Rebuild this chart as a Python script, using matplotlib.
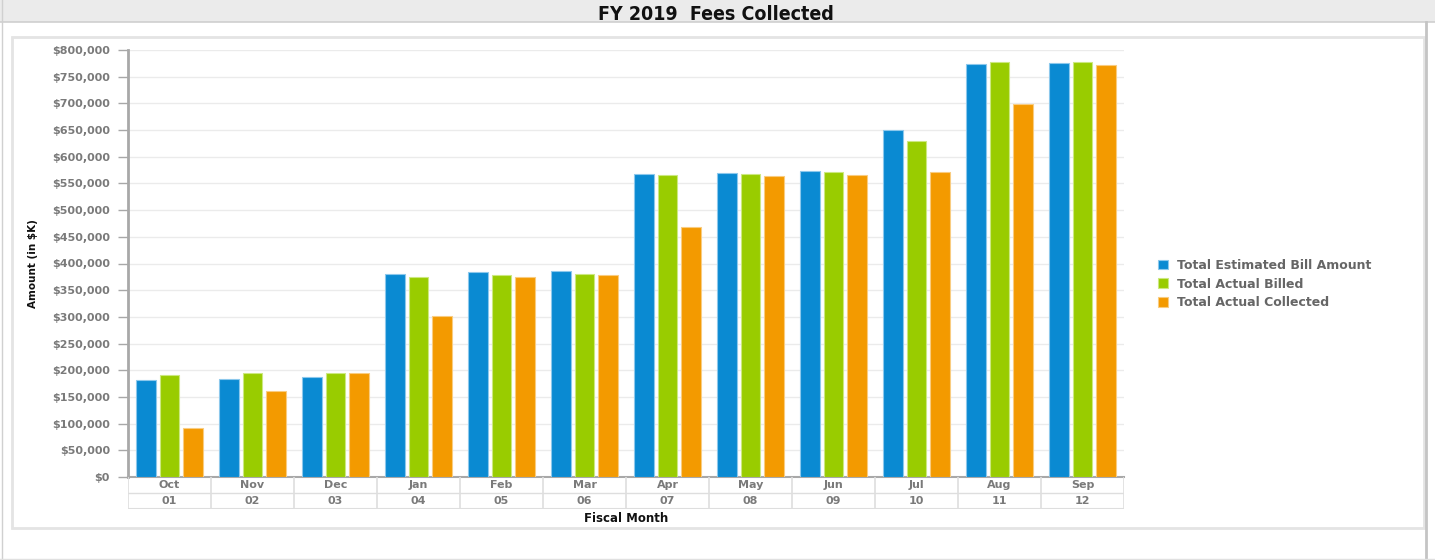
import numpy as np
import matplotlib
matplotlib.use("Agg")
import matplotlib.pyplot as plt
from matplotlib.patches import Rectangle
from matplotlib.lines import Line2D
from matplotlib.ticker import FuncFormatter

months = ["Oct", "Nov", "Dec", "Jan", "Feb", "Mar", "Apr", "May", "Jun", "Jul", "Aug", "Sep"]
month_nums = ["01", "02", "03", "04", "05", "06", "07", "08", "09", "10", "11", "12"]

estimated = [182000, 183000, 187000, 380000, 384000, 386000, 568000, 570000, 573000, 651000, 774000, 776000]
billed = [191000, 194000, 195000, 375000, 379000, 380000, 565000, 568000, 571000, 629000, 777000, 777000]
collected = [91000, 161000, 194000, 301000, 375000, 379000, 469000, 563000, 565000, 572000, 699000, 771000]

series_names = ["Total Estimated Bill Amount", "Total Actual Billed", "Total Actual Collected"]
colors = ["#0a8ad2", "#99cc00", "#f39a00"]
edges = ["#8cc8ec", "#cce880", "#f9cc80"]

W, H = 1435, 560


def box(x0, y0, x1, y1):
    # pixel box (top-left origin) -> figure fractions
    return [x0 / W, 1 - y1 / H, (x1 - x0) / W, (y1 - y0) / H]


fig = plt.figure(figsize=(W / 100, H / 100), dpi=100)
fig.patch.set_facecolor("white")

# title bar and frames
fig.patches.append(Rectangle((0, 1 - 22 / H), 1, 22 / H, transform=fig.transFigure,
                             facecolor="#ebebeb", edgecolor="none", zorder=0))
fig.add_artist(Line2D([0, 1], [1 - 22 / H] * 2, transform=fig.transFigure, color="#cfcfcf", lw=1.2))
fig.add_artist(Line2D([2 / W] * 2, [0, 1], transform=fig.transFigure, color="#d0d0d0", lw=1))
fig.add_artist(Line2D([1426 / W] * 2, [0, 1 - 22 / H], transform=fig.transFigure, color="#c4c4c4", lw=2))
fig.add_artist(Line2D([0, 1], [1 / H] * 2, transform=fig.transFigure, color="#e0e0e0", lw=1))
fig.patches.append(Rectangle((12 / W, 1 - 528 / H), (1424 - 12) / W, (528 - 37) / H,
                             transform=fig.transFigure, facecolor="none",
                             edgecolor="#e4e4e4", lw=2, zorder=0))
fig.text(716 / W, 1 - 14 / H, "FY 2019  Fees Collected", ha="center", va="center",
         fontsize=14, family="DejaVu Sans", fontstretch="condensed", fontweight="semibold",
         color="#111111")

ax = fig.add_axes(box(128, 50, 1124, 477))
x = np.arange(len(months))
step = 0.28
width = 0.24
for i, (vals, c, e, name) in enumerate(zip([estimated, billed, collected], colors, edges, series_names)):
    ax.bar(x + (i - 1) * step, vals, width=width, color=c, edgecolor=e, linewidth=0.8,
           label=name, zorder=3)

ax.set_xlim(-0.5, len(months) - 0.5)
ax.set_ylim(0, 800000)
ax.set_yticks(np.arange(0, 800001, 50000))
ax.yaxis.set_major_formatter(FuncFormatter(lambda v, p: "${:,.0f}".format(v)))
ax.set_xticks([])
ax.grid(axis="y", color="#ebebeb", lw=1, zorder=0)
for s in ["top", "right"]:
    ax.spines[s].set_visible(False)
ax.spines["left"].set_color("#a8a8a8")
ax.spines["left"].set_linewidth(2)
ax.spines["bottom"].set_color("#a8a8a8")
ax.spines["bottom"].set_linewidth(1.5)
ax.tick_params(axis="y", length=7, width=1, color="#a8a8a8", pad=6,
               labelsize=8, labelcolor="#7a7a7a")
for t in ax.get_yticklabels():
    t.set_fontweight("bold")
ax.set_ylabel("Amount (in $K)", fontsize=7.5, fontweight="bold", color="#111111", labelpad=10)

# category table below the axis
tab = fig.add_axes(box(128, 477, 1124, 509))
tab.set_xlim(-0.5, len(months) - 0.5)
tab.set_ylim(0, 32)
tab.axis("off")
line_c = "#dedede"
tab.plot([-0.5, len(months) - 0.5], [16, 16], color=line_c, lw=1)
tab.plot([-0.5, len(months) - 0.5], [0.5, 0.5], color=line_c, lw=1.5)
for b in np.arange(-0.5, len(months), 1.0):
    tab.plot([b, b], [0, 32], color=line_c, lw=1.2)
for i in range(len(months)):
    tab.text(i, 24, months[i], ha="center", va="center", fontsize=8,
             fontweight="bold", color="#7a7a7a")
    tab.text(i, 8, month_nums[i], ha="center", va="center", fontsize=8,
             fontweight="bold", color="#7a7a7a")

fig.text(626 / W, 1 - 519 / H, "Fiscal Month", ha="center", va="center",
         fontsize=8.5, fontweight="bold", color="#111111")

handles, labels = ax.get_legend_handles_labels()
leg = fig.legend(handles, labels, loc="center left", bbox_to_anchor=(1147 / W, 1 - 284 / H),
                 frameon=False, handlelength=0.8, handleheight=0.8, handletextpad=0.7,
                 labelspacing=0.45, prop={"size": 9, "weight": "bold"})
for t in leg.get_texts():
    t.set_color("#666666")

fig.savefig("out.png", dpi=100)
